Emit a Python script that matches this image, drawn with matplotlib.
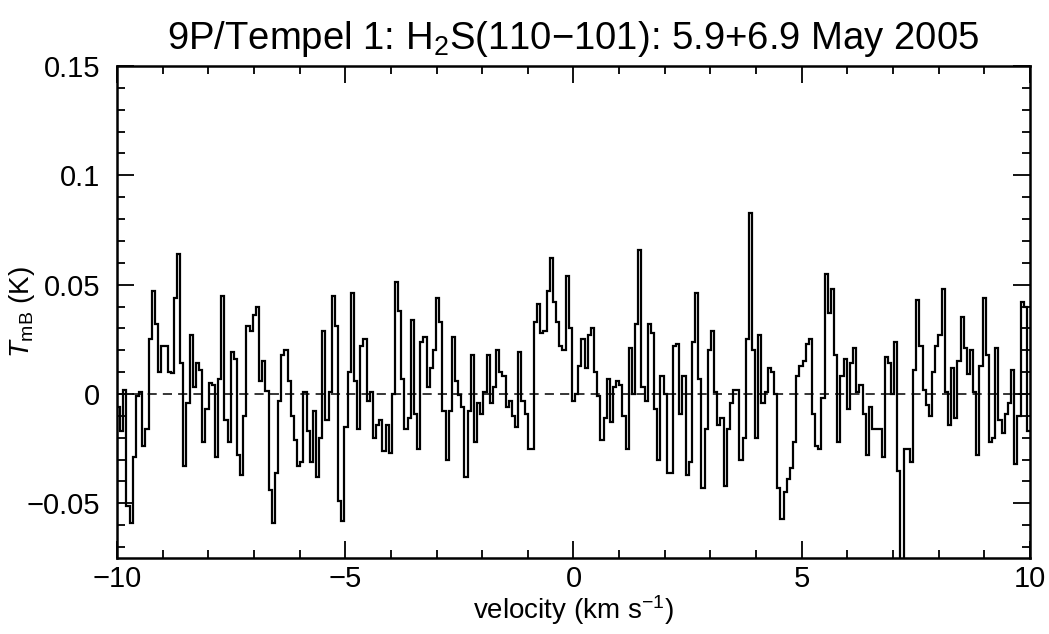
import numpy as np
import matplotlib
matplotlib.use("Agg")
import matplotlib.pyplot as plt
from matplotlib.ticker import MultipleLocator

plt.rcParams['font.family'] = ['Liberation Sans', 'DejaVu Sans']
plt.rcParams['mathtext.fontset'] = 'custom'
plt.rcParams['mathtext.rm'] = 'Liberation Sans'
plt.rcParams['mathtext.it'] = 'Liberation Sans:italic'

# spectrum, channel by channel from v = -10 km/s
tmb_a = [-0.006, -0.017, 0.002, -0.051, -0.059, -0.029, -0.001, 0.001, -0.024, -0.016,
         0.025, 0.047, 0.032, 0.010, 0.022, 0.022, 0.010, 0.0096, 0.044, 0.064,
         0.014, -0.033, -0.004, 0.027, 0.003, 0.014, 0.011, -0.022, -0.007, 0.005,
         0.004, -0.029, 0.007, 0.045, -0.012, -0.022, 0.019, 0.016, -0.028, -0.037,
         -0.010, 0.031, 0.029, 0.036, 0.040, 0.006, 0.015, 0.0015, -0.044]
tmb_b = [-0.059, -0.036, -0.003, 0.018, 0.020, 0.006, -0.010, -0.021, -0.033, -0.031,
         0.001, -0.017, -0.031, -0.008, -0.038, -0.020, 0.029, -0.012, 0.001, 0.045,
         0.031, -0.049, -0.058, -0.015, 0.010, 0.046, 0.006, -0.016, 0.022, 0.025,
         -0.003, 0.001, -0.020, -0.014, -0.012, -0.026, -0.014, -0.027, 0.000, 0.051,
         0.038, 0.007, -0.016, -0.011, 0.034, -0.009, -0.025]
tmb_c = [0.024, 0.026, 0.003, 0.012, 0.020, 0.044, 0.033, -0.008, -0.030, -0.008,
         0.026, 0.006, -0.0003, -0.006, -0.038, -0.008, 0.018, -0.022, -0.004, -0.009,
         0.001, 0.018, -0.004, 0.003, 0.020, 0.010, 0.008, -0.006, -0.003, -0.010,
         -0.015, 0.019, -0.003, -0.009, -0.025, -0.025, 0.033, 0.041, 0.028, 0.029,
         0.047, 0.062, 0.042, 0.033, 0.022, 0.020, 0.054, 0.030]
tmb_d = [-0.003, 0.000, 0.013, 0.025, 0.012, 0.027, 0.030, 0.010, -0.001, -0.021,
         -0.011, 0.007, -0.013, 0.003, 0.006, 0.004, -0.010, -0.025, 0.021, 0.000,
         0.032, 0.066, 0.003, -0.003, 0.032, 0.028, -0.007, -0.030, 0.008, 0.000,
         -0.036, -0.036, 0.022, 0.023, -0.009, 0.008, -0.037, -0.031, 0.024, 0.046,
         0.007, -0.043, -0.016, 0.020, 0.029, 0.001]
tmb_e = [-0.014, -0.011, -0.042, -0.016, -0.004, 0.002, 0.002, -0.030, -0.020, 0.025,
         0.083, 0.020, -0.020, 0.027, -0.004, 0.001, 0.012, 0.010, 0.000, -0.043,
         -0.057, -0.045, -0.039, -0.034, -0.022, 0.008, 0.013, 0.015, 0.023, 0.025,
         -0.009, -0.024, -0.025, -0.002, 0.055, 0.037, 0.048, 0.018, -0.022, 0.008,
         0.016, -0.007, 0.014, 0.021, 0.001, 0.004, -0.009, -0.028, -0.006]
tmb_f = [-0.016, -0.016, -0.016, -0.029, 0.017, 0.014, 0.000, 0.024, -0.035, -0.090,
         -0.025, -0.025, -0.031, 0.011, 0.043, 0.022, 0.002, -0.005, -0.010, 0.010,
         0.022, 0.027, 0.048, 0.001, -0.014, 0.012, -0.011, 0.015, 0.035, 0.021,
         0.009, 0.020, 0.001, -0.028, 0.013, 0.044, 0.018, -0.022, -0.020, 0.021,
         -0.012, -0.018, -0.009, -0.004, 0.011, -0.032, -0.010, 0.042, 0.040, -0.017]

tmb = np.array(tmb_a + tmb_b + tmb_c + tmb_d + tmb_e + tmb_f)
v_min, v_max = -10.0, 10.0
edges = np.linspace(v_min, v_max, len(tmb) + 1)

fig = plt.figure(figsize=(10.49, 6.34), dpi=100)
ax = fig.add_axes([0.1115, 0.1199, 0.8704, 0.776])

ax.stairs(tmb, edges, baseline=None, color='black', linewidth=1.6)
ax.axhline(0, color='black', linestyle=(0, (6, 4)), linewidth=1.1)

ax.set_xlim(v_min, v_max)
ax.set_ylim(-0.075, 0.15)
ax.xaxis.set_minor_locator(MultipleLocator(1))
ax.yaxis.set_minor_locator(MultipleLocator(0.01))
ax.set_yticks([-0.05, 0, 0.05, 0.1, 0.15])
ax.set_yticklabels(['\u22120.05', '0', '0.05', '0.1', '0.15'])
ax.set_xticks([-10, -5, 0, 5, 10])
ax.set_xticklabels(['\u221210', '\u22125', '0', '5', '10'])

ax.tick_params(which='both', direction='in', top=True, right=True, width=1.3, labelsize=21)
ax.tick_params(which='major', length=12)
ax.tick_params(which='minor', length=6)
ax.tick_params(axis='y', pad=12)
ax.tick_params(axis='x', pad=5)
for s in ax.spines.values():
    s.set_linewidth(1.8)

ax.set_xlabel('velocity (km s$^{-1}$)', fontsize=20, labelpad=0)
ax.set_ylabel('$T_{\\rm mB}$ (K)', fontsize=20)
ax.yaxis.set_label_coords(-0.088, 0.5)
ax.set_title('9P/Tempel 1: H$_2$S(110\u2212101): 5.9+6.9 May 2005', fontsize=27.5, pad=12)

fig.savefig('out.png', dpi=100)
